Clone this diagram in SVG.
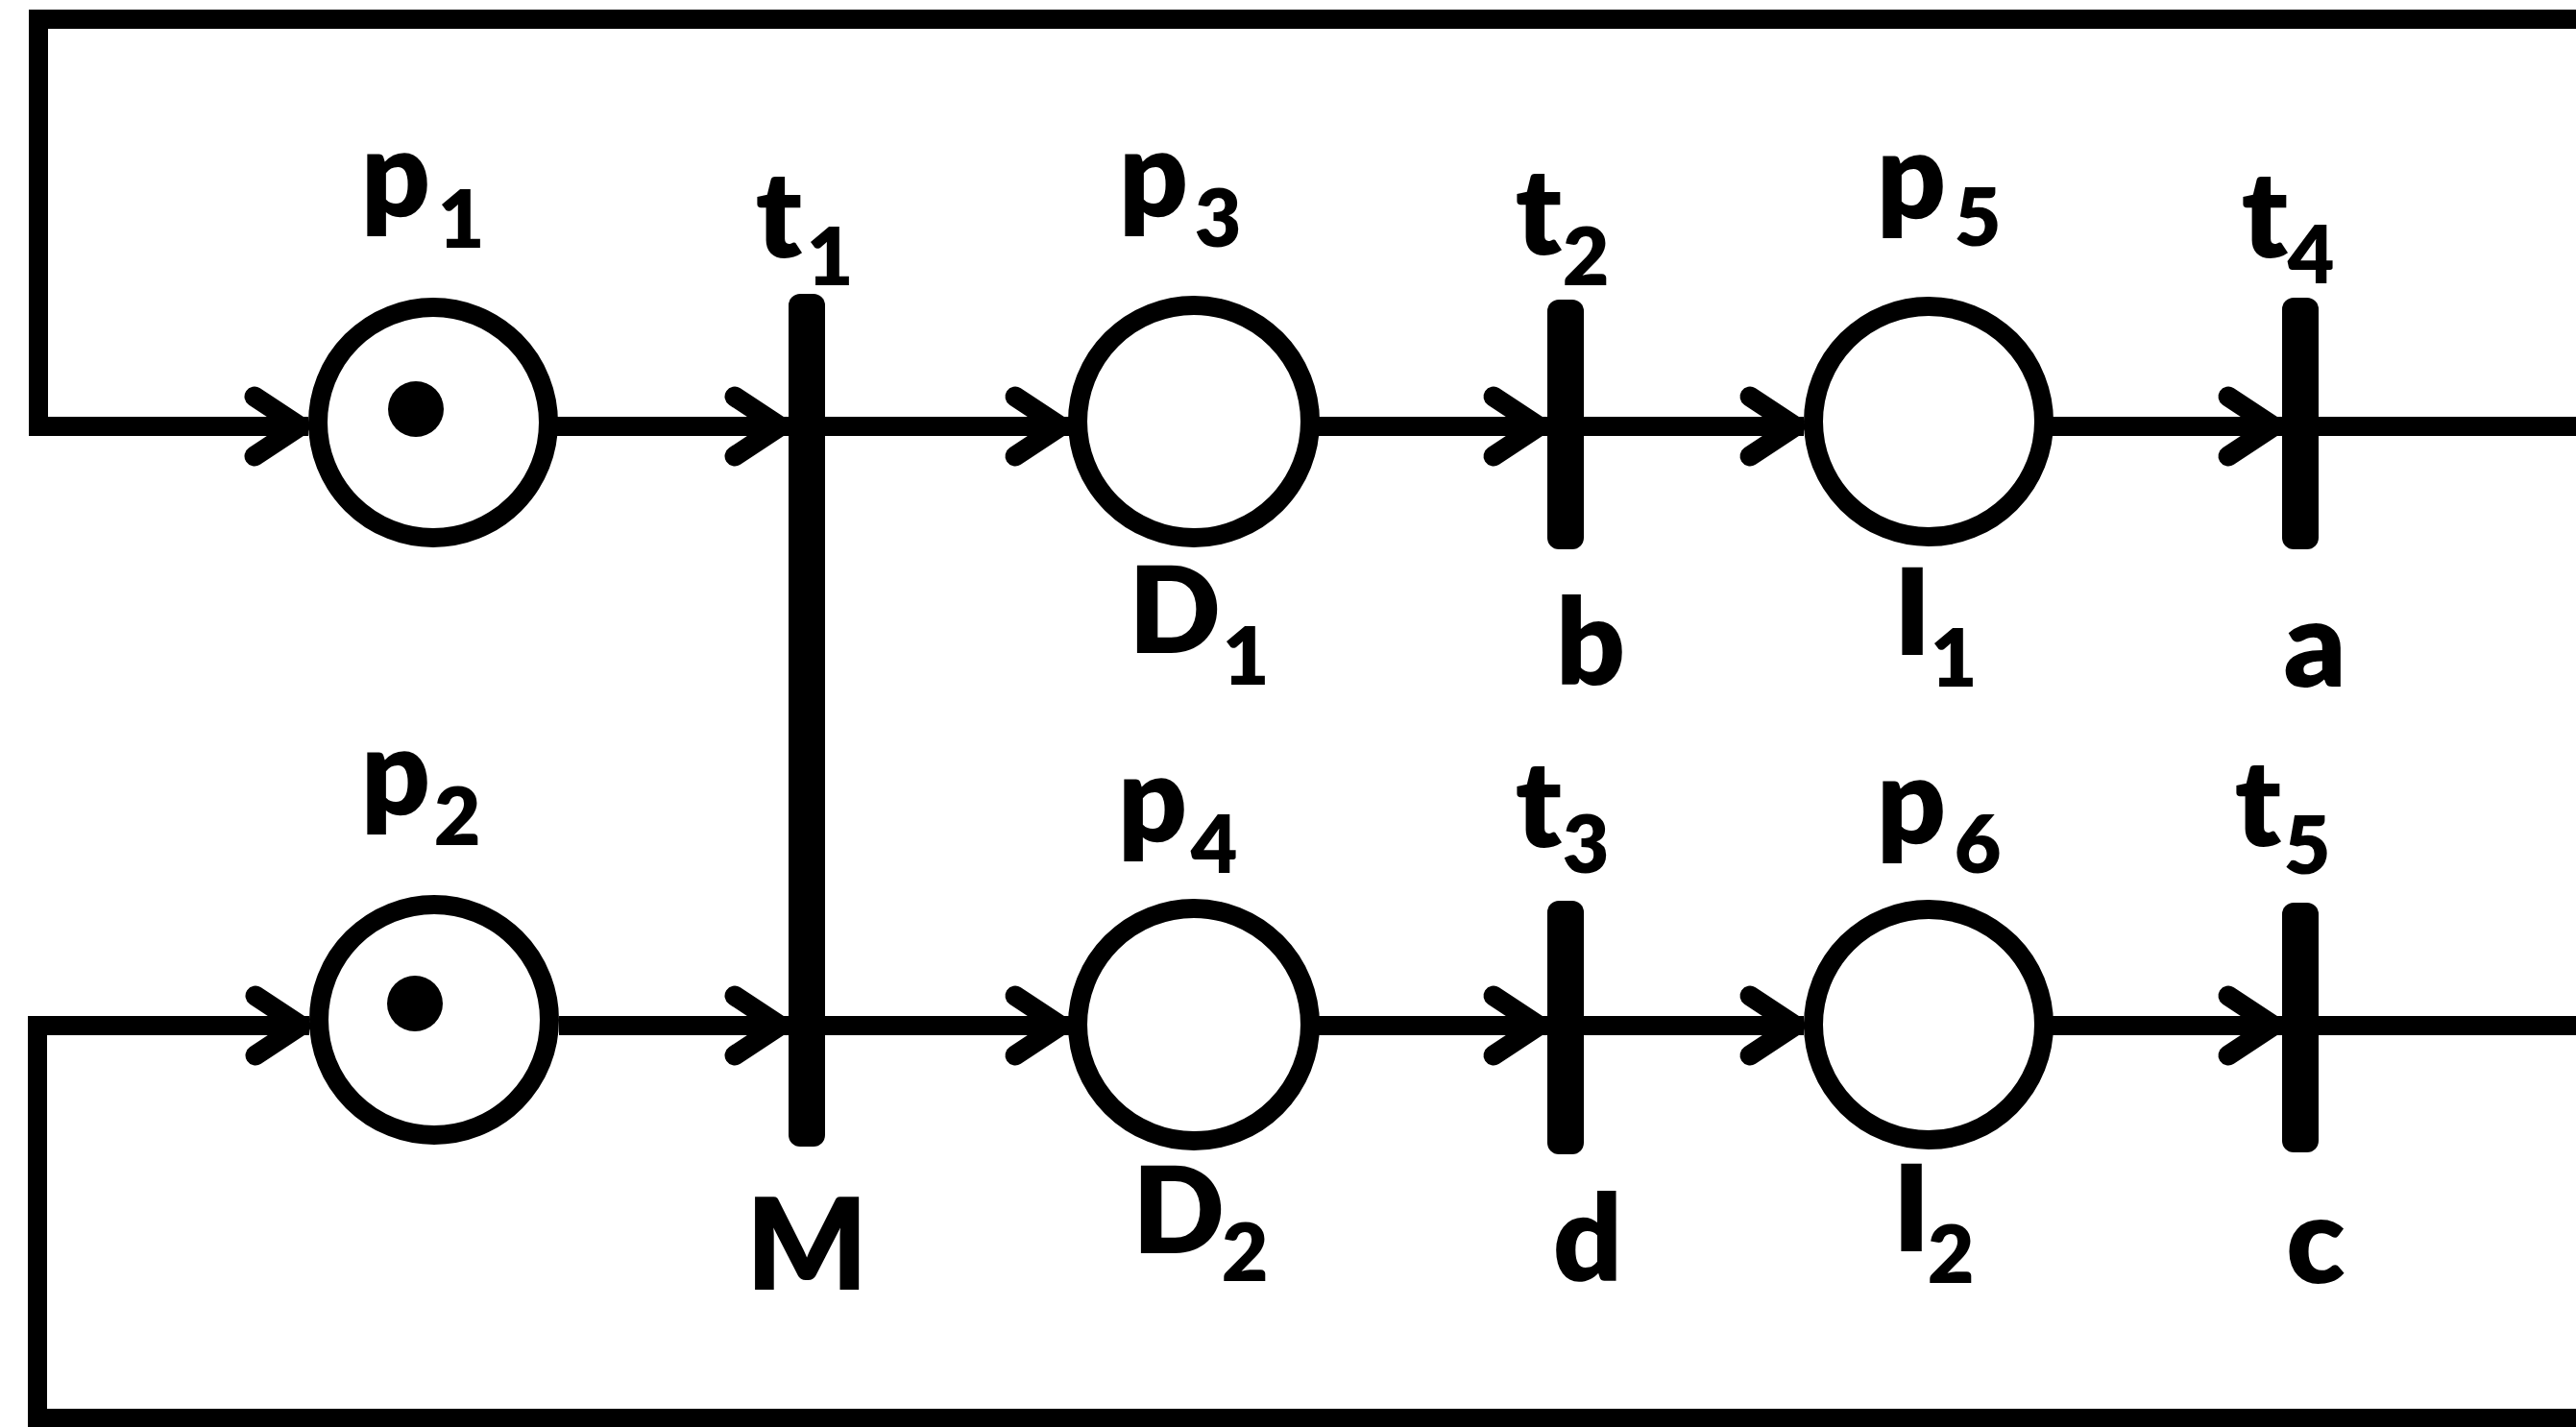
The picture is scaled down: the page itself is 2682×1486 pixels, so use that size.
<svg xmlns="http://www.w3.org/2000/svg" width="2682" height="1486" viewBox="0 0 2682 1486">
  <style>
    .place { fill: #fff; stroke: #000; stroke-width: 20; }
    .token { fill: #000; }
    .bar { fill: #000; }
    .arc { fill: none; stroke: #000; stroke-width: 20; stroke-linejoin: miter; }
    .arc.arrow { marker-end: url(#head); }
    text { font-family: Lato, "Liberation Sans", sans-serif; font-weight: 800; fill: #000; text-anchor: middle; }
    .lbl { font-size: 126px; }
    .sub { font-size: 84px; }
  </style>
  <defs>
    <marker id="head" markerUnits="userSpaceOnUse" orient="auto" refX="0" refY="0" markerWidth="1" markerHeight="1" overflow="visible">
      <path d="M-56 -31 L-9 0 L-56 31" fill="none" stroke="#000" stroke-width="21" stroke-linecap="round" stroke-linejoin="round"/>
    </marker>
  </defs>
  <rect width="2682" height="1486" fill="#fff"/>

  <!-- arcs -->
  <g id="connectors">
    <path class="arc arrow" d="M2690 20 H40 V444 H321"/>
    <path class="arc arrow" d="M580 444 H821"/>
    <path class="arc arrow" d="M840 444 H1113"/>
    <path class="arc arrow" d="M1372 444 H1611"/>
    <path class="arc arrow" d="M1630 444 H1878"/>
    <path class="arc arrow" d="M2137 444 H2376"/>
    <path class="arc" d="M2395 444 H2690"/>

    <path class="arc arrow" d="M2690 1477 H39 V1068 H322"/>
    <path class="arc arrow" d="M582 1068 H821"/>
    <path class="arc arrow" d="M840 1068 H1113"/>
    <path class="arc arrow" d="M1372 1068 H1611"/>
    <path class="arc arrow" d="M1630 1068 H1878"/>
    <path class="arc arrow" d="M2137 1068 H2376"/>
    <path class="arc" d="M2395 1068 H2690"/>
  </g>

  <!-- places -->
  <g id="p1">
    <circle class="place" cx="451" cy="440" r="120"/>
    <circle class="token" cx="433" cy="426" r="29"/>
    <text class="lbl"><tspan x="412" y="225">p</tspan><tspan class="sub" x="480" y="258">1</tspan></text>
  </g>
  <g id="p2">
    <circle class="place" cx="452" cy="1062" r="120"/>
    <circle class="token" cx="432" cy="1045" r="29"/>
    <text class="lbl"><tspan x="412" y="848">p</tspan><tspan class="sub" x="476" y="880">2</tspan></text>
  </g>
  <g id="p3">
    <circle class="place" cx="1243" cy="439" r="121"/>
    <text class="lbl"><tspan x="1201" y="225">p</tspan><tspan class="sub" x="1268" y="257">3</tspan></text>
    <text class="lbl"><tspan x="1223" y="680">D</tspan><tspan class="sub" x="1297" y="713">1</tspan></text>
  </g>
  <g id="p4">
    <circle class="place" cx="1243" cy="1067" r="121"/>
    <text class="lbl"><tspan x="1200" y="876">p</tspan><tspan class="sub" x="1264" y="909">4</tspan></text>
    <text class="lbl"><tspan x="1227" y="1305">D</tspan><tspan class="sub" x="1296" y="1334">2</tspan></text>
  </g>
  <g id="p5">
    <circle class="place" cx="2008" cy="439" r="120"/>
    <text class="lbl"><tspan x="1990" y="227">p</tspan><tspan class="sub" x="2059" y="256">5</tspan></text>
    <text class="lbl"><tspan x="1991" y="682">I</tspan><tspan class="sub" x="2034" y="715">1</tspan></text>
  </g>
  <g id="p6">
    <circle class="place" cx="2008" cy="1067" r="120"/>
    <text class="lbl"><tspan x="1990" y="878">p</tspan><tspan class="sub" x="2059" y="909">6</tspan></text>
    <text class="lbl"><tspan x="1990" y="1303">I</tspan><tspan class="sub" x="2031" y="1336">2</tspan></text>
  </g>

  <!-- transitions -->
  <g id="t1">
    <rect class="bar" x="821" y="306" width="38" height="888" rx="12"/>
    <text class="lbl"><tspan x="811" y="268">t</tspan><tspan class="sub" x="864" y="297">1</tspan></text>
    <text class="lbl" x="840" y="1343" style="font-size:132px">M</text>
  </g>
  <g id="t2">
    <rect class="bar" x="1611" y="312" width="38" height="260" rx="12"/>
    <text class="lbl"><tspan x="1602" y="265">t</tspan><tspan class="sub" x="1651" y="297">2</tspan></text>
    <text class="lbl" x="1656" y="713">b</text>
  </g>
  <g id="t3">
    <rect class="bar" x="1611" y="938" width="38" height="264" rx="12"/>
    <text class="lbl"><tspan x="1602" y="882">t</tspan><tspan class="sub" x="1651" y="909">3</tspan></text>
    <text class="lbl" x="1653" y="1334">d</text>
  </g>
  <g id="t4">
    <rect class="bar" x="2376" y="310" width="38" height="262" rx="12"/>
    <text class="lbl"><tspan x="2358" y="268">t</tspan><tspan class="sub" x="2406" y="295">4</tspan></text>
    <text class="lbl" x="2410" y="715">a</text>
  </g>
  <g id="t5">
    <rect class="bar" x="2376" y="940" width="38" height="260" rx="12"/>
    <text class="lbl"><tspan x="2351" y="881">t</tspan><tspan class="sub" x="2402" y="910">5</tspan></text>
    <text class="lbl" x="2411" y="1336">c</text>
  </g>
</svg>
